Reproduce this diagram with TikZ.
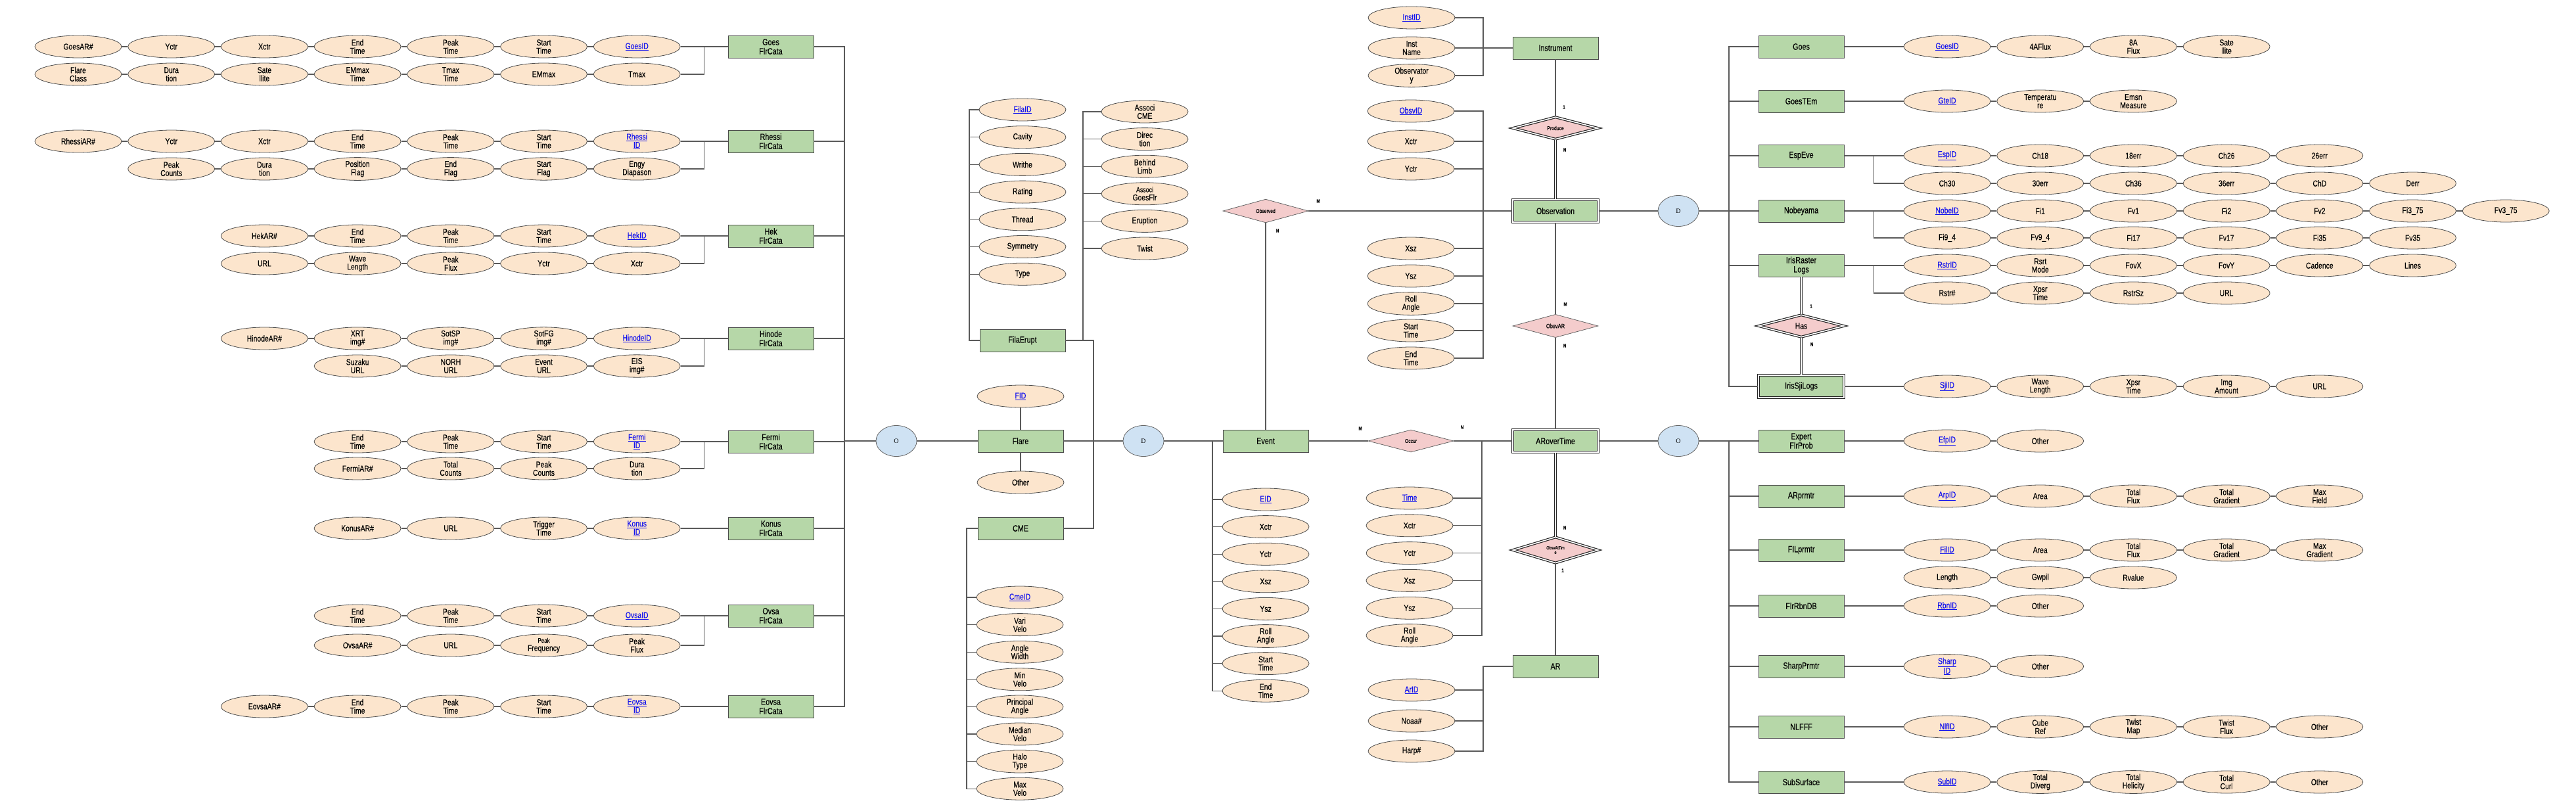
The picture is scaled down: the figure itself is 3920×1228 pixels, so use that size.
\documentclass[tikz,border=0pt]{standalone}
\usepackage{fontspec}
\setmainfont{Liberation Sans}[FakeStretch=0.8, FakeBold=0.3]
\newfontfamily\serifont{Liberation Serif}
\usetikzlibrary{shapes.geometric, calc, positioning}
\definecolor{attrfill}{HTML}{FCE5CD}
\definecolor{entfill}{HTML}{B6D7A8}
\definecolor{relfill}{HTML}{F4CCCC}
\definecolor{specfill}{HTML}{CFE2F3}
\definecolor{keyblue}{HTML}{1111EE}
\definecolor{linegray}{HTML}{5A5A5A}
\newcommand{\key}[1]{\textcolor{keyblue}{\underline{#1}}}
\tikzset{
    attr/.style={ellipse, draw=black!70, fill=attrfill, minimum width=132, minimum height=34, inner sep=0pt, line width=0.8pt, font=\fontsize{13}{12.5}\selectfont, align=center},
    entity/.style={draw=black!70, fill=entfill, minimum width=130, minimum height=34, inner sep=0pt, line width=0.8pt, font=\fontsize{13.5}{14}\selectfont, align=center},
    weakent/.style={entity, double, double distance=1.6pt, line width=1.2pt, draw=black!85},
    rel/.style={diamond, draw=black!60, fill=relfill, minimum width=130, minimum height=34, inner sep=0pt, line width=0.8pt, font=\fontsize{8.5}{9}\selectfont, align=center},
    weakrel/.style={rel, double, double distance=1.6pt, line width=1.2pt, draw=black!85},
    spec/.style={ellipse, draw=black!60, fill=specfill, minimum width=62, minimum height=47, inner sep=0pt, line width=0.8pt, font=\serifont\fontsize{10}{11}\selectfont},
    link/.style={draw=linegray, line width=1.1pt},
    ident/.style={draw=black!85, line width=1.1pt, double, double distance=1.6pt},
    card/.style={font=\bfseries\fontsize{7.5}{8}\selectfont, inner sep=0pt},
}
% one row of attributes, chained left to right
\newcommand{\attrrow}[4]{%
  \foreach \txt [count=\i, remember=\i as \k (initially 0)] in {#4} {
    \node[attr] (#1-\i) at ({#2+141.7*(\i-1)},#3) {\txt};
    \ifnum\k>0 \draw[link] (#1-\k) -- (#1-\i); \fi
  }%
}
\begin{document}
\begin{tikzpicture}[x=1pt, y=-1pt]
\useasboundingbox (0,0) rectangle (3920,1228);
% flare catalogues
\attrrow{goesA}{119}{71}{GoesAR\#, Yctr, Xctr, End\\Time, Peak\\Time, Start\\Time, \key{GoesID}}
\attrrow{goesB}{119}{113}{Flare\\Class, Dura\\tion, Sate\\llite, EMmax\\Time, Tmax\\Time, EMmax, Tmax}
\attrrow{rhessiA}{119}{215}{RhessiAR\#, Yctr, Xctr, End\\Time, Peak\\Time, Start\\Time, \key{Rhessi}\\\key{ID}}
\attrrow{rhessiB}{260.7}{257}{Peak\\Counts, Dura\\tion, Position\\Flag, End\\Flag, Start\\Flag, Engy\\Diapason}
\attrrow{hekA}{402.4}{359}{HekAR\#, End\\Time, Peak\\Time, Start\\Time, \key{HekID}}
\attrrow{hekB}{402.4}{401}{URL, Wave\\Length, Peak\\Flux, Yctr, Xctr}
\attrrow{hinodeA}{402.4}{515}{HinodeAR\#, XRT\\img\#, SotSP\\img\#, SotFG\\img\#, \key{HinodeID}}
\attrrow{hinodeB}{544.1}{557}{Suzaku\\URL, NORH\\URL, Event\\URL, EIS\\img\#}
\attrrow{fermiA}{544.1}{672}{End\\Time, Peak\\Time, Start\\Time, \key{Fermi}\\\key{ID}}
\attrrow{fermiB}{544.1}{713}{FermiAR\#, Total\\Counts, Peak\\Counts, Dura\\tion}
\attrrow{konusA}{544.1}{804}{KonusAR\#, URL, Trigger\\Time, \key{Konus}\\\key{ID}}
\attrrow{ovsaA}{544.1}{937}{End\\Time, Peak\\Time, Start\\Time, \key{OvsaID}}
\attrrow{ovsaB}{544.1}{982}{OvsaAR\#, URL, \fontsize{10}{10.5}\selectfont Peak\\Frequency, Peak\\Flux}
\attrrow{eovsaA}{402.4}{1075}{EovsaAR\#, End\\Time, Peak\\Time, Start\\Time, \key{Eovsa}\\\key{ID}}

\node[entity] (goesfc) at (1173,71) {Goes\\FlrCata};
\node[entity] (rhessifc) at (1173,215) {Rhessi\\FlrCata};
\node[entity] (hekfc) at (1173,359) {Hek\\FlrCata};
\node[entity] (hinodefc) at (1173,515) {Hinode\\FlrCata};
\node[entity] (fermifc) at (1173,672) {Fermi\\FlrCata};
\node[entity] (konusfc) at (1173,804) {Konus\\FlrCata};
\node[entity] (ovsafc) at (1173,937) {Ovsa\\FlrCata};
\node[entity] (eovsafc) at (1173,1075) {Eovsa\\FlrCata};

\foreach \cat/\a/\b in {goes/goesA-7/goesB-7, rhessi/rhessiA-7/rhessiB-6, hek/hekA-5/hekB-5,
    hinode/hinodeA-5/hinodeB-4, fermi/fermiA-4/fermiB-4, ovsa/ovsaA-4/ovsaB-4} {
  \draw[link] (\a) -- (\cat fc);
  \draw[link] (\b.east) -| ($(\a.east)!.5!(\cat fc.west)$);
}
\draw[link] (konusA-4) -- (konusfc);
\draw[link] (eovsaA-5) -- (eovsafc);

\coordinate (lbus) at (1285,0);
\draw[link] (goesfc.east) -- (goesfc.east -| lbus) -- (eovsafc.east -| lbus) -- (eovsafc.east);
\foreach \cat in {rhessi, hek, hinode, fermi, konus, ovsa}
  \draw[link] (\cat fc.east) -- (\cat fc.east -| lbus);

% flare
\node[spec] (flareO) at (1364,671) {O};
\node[entity] (flare) at (1553,671) {Flare};
\node[attr] (fid) at (1553,603) {\key{FID}};
\node[attr] (fother) at (1553,734) {Other};
\draw[link] (flareO.west) -- (flareO.west -| lbus);
\draw[link] (flareO) -- (flare);
\draw[link] (fid) -- (flare);
\draw[link] (fother) -- (flare);

% filament eruption
\node[entity] (filaerupt) at (1556,518) {FilaErupt};
\foreach \txt [count=\i] in {\key{FilaID}, Cavity, Writhe, Rating, Thread, Symmetry, Type}
  \node[attr] (filaL-\i) at (1556,{167+41.7*(\i-1)}) {\txt};
\foreach \txt [count=\i] in {Associ\\CME, Direc\\tion, Behind\\Limb, \fontsize{11}{11}\selectfont Associ\\GoesFlr, Eruption, Twist}
  \node[attr] (filaR-\i) at (1742,{170+41.6*(\i-1)}) {\txt};
\coordinate (fbl) at (1475,0);
\coordinate (fbr) at (1648,0);
\coordinate (fjoin) at (1664,0);
\draw[link] (filaL-1.west) -- (filaL-1.west -| fbl) -- (filaerupt.west -| fbl) -- (filaerupt.west);
\foreach \i in {2,...,7} \draw[link] (filaL-\i.west) -- (filaL-\i.west -| fbl);
\draw[link] (filaR-1.west) -- (filaR-1.west -| fbr) -- (filaerupt.east -| fbr);
\foreach \i in {2,...,6} \draw[link] (filaR-\i.west) -- (filaR-\i.west -| fbr);

% cme
\node[entity] (cme) at (1553,804) {CME};
\foreach \txt [count=\i] in {\key{CmeID}, Vari\\Velo, Angle\\Width, Min\\Velo, Principal\\Angle, Median\\Velo, Halo\\Type, Max\\Velo}
  \node[attr] (cmeA-\i) at (1552,{909+41.6*(\i-1)}) {\txt};
\coordinate (cbl) at (1471,0);
\draw[link] (cme.west) -- (cme.west -| cbl) -- (cmeA-8.west -| cbl) -- (cmeA-8.west);
\foreach \i in {1,...,7} \draw[link] (cmeA-\i.west) -- (cmeA-\i.west -| cbl);
\draw[link] (filaerupt.east) -- (filaerupt.east -| fjoin) -- (cme.east -| fjoin) -- (cme.east);

% event
\node[spec] (eventD) at (1740,671) {D};
\node[entity] (event) at (1926,671) {Event};
\draw[link] (flare) -- (eventD);
\draw[link] (eventD) -- (event);
\foreach \txt [count=\i] in {\key{EID}, Xctr, Yctr, Xsz, Ysz, Roll\\Angle, Start\\Time, End\\Time}
  \node[attr] (evA-\i) at (1926,{760+41.6*(\i-1)}) {\txt};
\coordinate (ebl) at (1845,0);
\draw[link] (event.west) -- (event.west -| ebl) -- (evA-8.west -| ebl) -- (evA-8.west);
\foreach \i in {1,...,7} \draw[link] (evA-\i.west) -- (evA-\i.west -| ebl);

% instrument and observation
\node[entity] (instrument) at (2367,73) {Instrument};
\node[weakrel] (produce) at (2367,195) {Produce};
\node[weakent] (observation) at (2367,321) {Observation};
\node[rel] (observed) at (1926,321) {Observed};
\node[rel, font=\fontsize{9.5}{10}\selectfont] (obsvar) at (2367,496) {ObsvAR};
\node[weakent] (arovertime) at (2367,671) {ARoverTime};
\node[rel] (occur) at (2147,671) {Occur};
\node[weakrel, font=\fontsize{7}{7}\selectfont] (obsvattime) at (2367,837) {ObsvAtTim\\e};
\node[entity] (ar) at (2367,1014) {AR};
\draw[link] (instrument) -- (produce);
\draw[ident] (produce) -- (observation);
\draw[link] (observed) -- (observation);
\draw[link] (observed) -- (event);
\draw[link] (observation) -- (obsvar);
\draw[link] (obsvar) -- (arovertime);
\draw[link] (event) -- (occur);
\draw[link] (occur) -- (arovertime);
\draw[ident] (arovertime) -- (obsvattime);
\draw[link] (obsvattime) -- (ar);

\node[card] (cObsdM) at (2006,306) {M};
\node[card] (cObsdN) at (1944,351) {N};
\node[card] (cProd1) at (2380,163) {1};
\node[card] (cProdN) at (2381,228) {N};
\node[card] (cOarM) at (2382,463) {M};
\node[card] (cOarN) at (2381,526) {N};
\node[card] (cOccM) at (2070,652) {M};
\node[card] (cOccN) at (2225,650) {N};
\node[card] (cOatN) at (2381,803) {N};
\node[card] (cOat1) at (2378,868) {1};

\coordinate (ibr) at (2257,0);
\foreach \txt/\yy [count=\i] in {\key{InstID}/27, Inst\\Name/73, Observator\\y/115}
  \node[attr] (inst-\i) at (2148,\yy) {\txt};
\draw[link] (inst-1.east) -- (inst-1.east -| ibr) -- (inst-3.east -| ibr) -- (inst-3.east);
\draw[link] (inst-2) -- (instrument);

\foreach \txt/\yy [count=\i] in {\key{ObsvID}/169, Xctr/215, Yctr/257, Xsz/378, Ysz/420, Roll\\Angle/462, Start\\Time/503, End\\Time/545}
  \node[attr] (obsv-\i) at (2147,\yy) {\txt};
\draw[link] (obsv-1.east) -- (obsv-1.east -| ibr) -- (obsv-8.east -| ibr) -- (obsv-8.east);
\foreach \i in {2,...,7} \draw[link] (obsv-\i.east) -- (obsv-\i.east -| ibr);

\foreach \txt [count=\i] in {\key{Time}, Xctr, Yctr, Xsz, Ysz, Roll\\Angle}
  \node[attr] (art-\i) at (2145,{758+41.8*(\i-1)}) {\txt};
\coordinate (abr) at (2255,0);
\draw[link] (art-6.east) -- (art-6.east -| abr) -- (arovertime.west -| abr);
\foreach \i in {1,...,5} \draw[link] (art-\i.east) -- (art-\i.east -| abr);

\foreach \txt/\yy [count=\i] in {\key{ArID}/1050, Noaa\#/1097, Harp\#/1143}
  \node[attr] (arA-\i) at (2148,\yy) {\txt};
\draw[link] (ar.west) -- (ar.west -| ibr) -- (arA-3.east -| ibr) -- (arA-3.east);
\foreach \i in {1,2} \draw[link] (arA-\i.east) -- (arA-\i.east -| ibr);

% observation subtypes
\node[spec] (obsD) at (2554,321) {D};
\node[entity] (rgoes) at (2741,71) {Goes};
\node[entity] (rgoestem) at (2741,154) {GoesTEm};
\node[entity] (respeve) at (2741,237) {EspEve};
\node[entity] (rnobe) at (2741,321) {Nobeyama};
\node[entity] (rraster) at (2741,404) {IrisRaster\\Logs};
\node[weakrel, font=\fontsize{13}{13}\selectfont] (has) at (2741,496) {Has};
\node[weakent] (rsji) at (2741,588) {IrisSjiLogs};
\node[card] (cHas1) at (2756,466) {1};
\node[card] (cHasN) at (2757,524) {N};
\draw[ident] (rraster) -- (has);
\draw[ident] (has) -- (rsji);
\draw[link] (observation) -- (obsD);
\coordinate (rbus) at (2631,0);
\draw[link] (obsD.east) -- (obsD.east -| rbus);
\draw[link] (rgoes.west) -- (rgoes.west -| rbus) -- (rsji.west -| rbus) -- (rsji.west);
\foreach \e in {rgoestem, respeve, rnobe, rraster}
  \draw[link] (\e.west) -- (\e.west -| rbus);

\attrrow{goesR}{2963}{71}{\key{GoesID}, 4AFlux, 8A\\Flux, Sate\\llite}
\attrrow{gteR}{2963}{154}{\key{GteID}, Temperatu\\re, Emsn\\Measure}
\attrrow{espA}{2963}{237}{\key{EspID}, Ch18, 18err, Ch26, 26err}
\attrrow{espB}{2963}{279}{Ch30, 30err, Ch36, 36err, ChD, Derr}
\attrrow{nobeA}{2963}{321}{\key{NobeID}, Fi1, Fv1, Fi2, Fv2, Fi3\_75, Fv3\_75}
\attrrow{nobeB}{2963}{362}{Fi9\_4, Fv9\_4, Fi17, Fv17, Fi35, Fv35}
\attrrow{rstrA}{2963}{404}{\key{RstrID}, Rsrt\\Mode, FovX, FovY, Cadence, Lines}
\attrrow{rstrB}{2963}{446}{Rstr\#, Xpsr\\Time, RstrSz, URL}
\attrrow{sjiR}{2963}{588}{\key{SjiID}, Wave\\Length, Xpsr\\Time, Img\\Amount, URL}
\draw[link] (rgoes) -- (goesR-1);
\draw[link] (rgoestem) -- (gteR-1);
\draw[link] (rsji) -- (sjiR-1);
\foreach \e/\a/\b in {respeve/espA/espB, rnobe/nobeA/nobeB, rraster/rstrA/rstrB} {
  \draw[link] (\e) -- (\a-1);
  \draw[link] (\b-1.west) -| ($(\e.east)!.5!(\a-1.west)$);
}

% active region parameters
\node[spec] (arO) at (2554,671) {O};
\node[entity] (rexpert) at (2741,671) {Expert\\FlrProb};
\node[entity] (rarp) at (2741,755) {ARprmtr};
\node[entity] (rfil) at (2741,837) {FILprmtr};
\node[entity] (rrbn) at (2741,922) {FlrRbnDB};
\node[entity] (rsharp) at (2741,1014) {SharpPrmtr};
\node[entity] (rnlfff) at (2741,1106) {NLFFF};
\node[entity] (rsub) at (2741,1190) {SubSurface};
\draw[link] (arovertime) -- (arO);
\draw[link] (arO.east) -- (arO.east -| rbus);
\draw[link] (rexpert.west) -- (rexpert.west -| rbus) -- (rsub.west -| rbus) -- (rsub.west);
\foreach \e in {rarp, rfil, rrbn, rsharp, rnlfff}
  \draw[link] (\e.west) -- (\e.west -| rbus);

\attrrow{efpR}{2963}{671}{\key{EfpID}, Other}
\attrrow{arpR}{2963}{755}{\key{ArpID}, Area, Total\\Flux, Total\\Gradient, Max\\Field}
\attrrow{filA}{2963}{837}{\key{FilID}, Area, Total\\Flux, Total\\Gradient, Max\\Gradient}
\attrrow{filB}{2963}{879}{Length, Gwpil, Rvalue}
\attrrow{rbnR}{2963}{922}{\key{RbnID}, Other}
\attrrow{sharpR}{2963}{1014}{\key{Sharp}\\\key{ID}, Other}
\attrrow{nlfR}{2963}{1106}{\key{NlfID}, Cube\\Ref, Twist\\Map, Twist\\Flux, Other}
\attrrow{subR}{2963}{1190}{\key{SubID}, Total\\Diverg, Total\\Helicity, Total\\Curl, Other}
\draw[link] (rexpert) -- (efpR-1);
\draw[link] (rarp) -- (arpR-1);
\draw[link] (rfil) -- (filA-1);
\draw[link] (rrbn) -- (rbnR-1);
\draw[link] (rsharp) -- (sharpR-1);
\draw[link] (rnlfff) -- (nlfR-1);
\draw[link] (rsub) -- (subR-1);
\end{tikzpicture}
\end{document}
